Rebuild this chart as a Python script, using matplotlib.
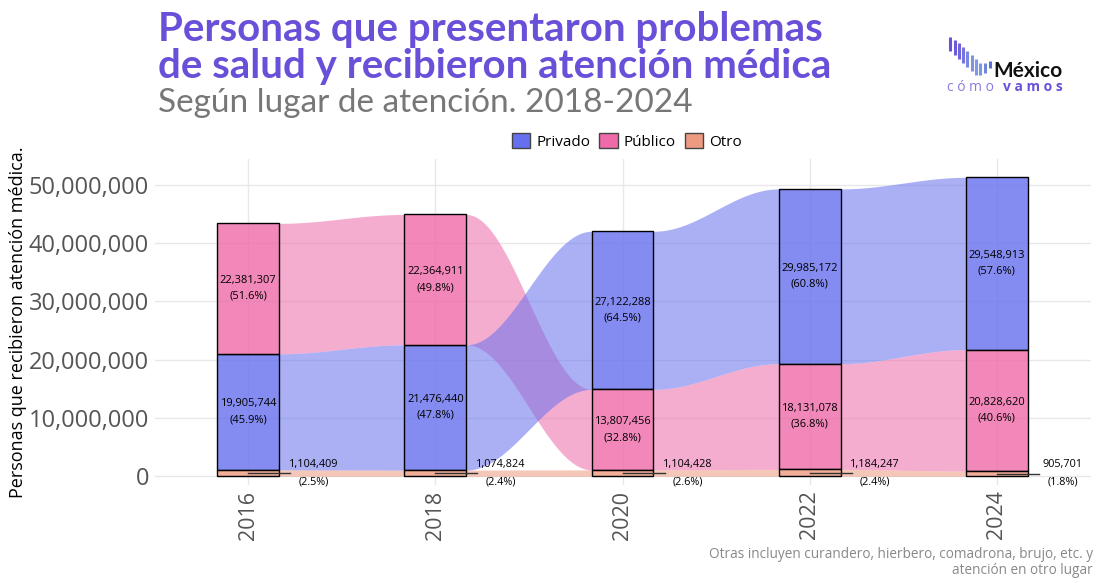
import numpy as np
import matplotlib
matplotlib.use("Agg")
import matplotlib.pyplot as plt
from matplotlib.patches import Patch

# Datos
years = [2016, 2018, 2020, 2022, 2024]
privado = [19905744, 21476440, 27122288, 29985172, 29548913]
publico = [22381307, 22364911, 13807456, 18131078, 20828620]
otro = [1104409, 1074824, 1104428, 1184247, 905701]
categorias = ["Privado", "Público", "Otro"]
colores = {"Privado": "#6670ee", "Público": "#ee6aa8", "Otro": "#ee9a80"}

plt.rcParams['font.family'] = ['Open Sans', 'DejaVu Sans']

series = {"Privado": privado, "Público": publico, "Otro": otro}
n = len(years)
totales = [privado[i] + publico[i] + otro[i] for i in range(n)]

# Apilar de menor a mayor en cada año
bottoms = {c: [0] * n for c in categorias}
tops = {c: [0] * n for c in categorias}
for i in range(n):
    orden = sorted(categorias, key=lambda c: series[c][i])
    acc = 0
    for c in orden:
        bottoms[c][i] = acc
        acc += series[c][i]
        tops[c][i] = acc

fig = plt.figure(figsize=(10.96, 5.83), dpi=100)
ax = fig.add_axes([0.141, 0.168, 0.854, 0.56])

w = 0.66
t = np.linspace(0, 1, 80)
s = (1 - np.cos(np.pi * t)) / 2

# Flujos entre barras
for i in range(n - 1):
    x0 = years[i] + w / 2
    x1 = years[i + 1] - w / 2
    xs = x0 + (x1 - x0) * t
    for c in ["Otro", "Público", "Privado"]:
        lo = bottoms[c][i] + (bottoms[c][i + 1] - bottoms[c][i]) * s
        hi = tops[c][i] + (tops[c][i + 1] - tops[c][i]) * s
        ax.fill_between(xs, lo, hi, color=colores[c], alpha=0.55, linewidth=0, zorder=1)

# Barras
for c in categorias:
    ax.bar(years, series[c], bottom=bottoms[c], width=w,
           color=matplotlib.colors.to_rgba(colores[c], 0.8),
           edgecolor="black", linewidth=1, zorder=2)

# Etiquetas
for i in range(n):
    for c in ["Privado", "Público"]:
        v = series[c][i]
        ax.text(years[i], bottoms[c][i] + v / 2,
                f"{v:,}\n({v / totales[i] * 100:.1f}%)",
                ha="center", va="center", fontsize=8, linespacing=1.6, zorder=3)
    v = otro[i]
    ym = bottoms["Otro"][i] + v / 2
    ax.plot([years[i], years[i] + 0.45], [ym, ym], color="#333333", lw=1, zorder=3)
    ax.text(years[i] + 0.7, ym, f"{v:,}\n({v / totales[i] * 100:.1f}%)",
            ha="center", va="center", fontsize=7.8, linespacing=1.8, zorder=3)

ax.set_xlim(2015, 2025)
ax.set_ylim(-1.5e6, 54.5e6)
ax.set_xticks(years)
ax.set_xticklabels([str(y) for y in years], rotation=90, fontsize=15.5, color="#555555")
ax.set_yticks(range(0, 50000001, 10000000))
ax.set_yticklabels([f"{v:,}" for v in range(0, 50000001, 10000000)], fontsize=17, color="#555555")
ax.tick_params(length=0, pad=4)
ax.grid(True, color="#e8e8e8", lw=1)
ax.set_axisbelow(True)
for sp in ax.spines.values():
    sp.set_visible(False)
ax.set_ylabel("Personas que recibieron atención médica.", fontsize=13, labelpad=1)

handles = [Patch(facecolor=colores[c], edgecolor="#444444", label=c) for c in categorias]
fig.legend(handles=handles, loc="center", bbox_to_anchor=(0.572, 0.758), ncol=3,
           frameon=False, fontsize=11, handlelength=1.2, handleheight=1.2,
           handletextpad=0.4, columnspacing=0.6)

# Títulos
fig.text(0.144, 0.918, "Personas que presentaron problemas\nde salud y recibieron atención médica",
         fontsize=29, fontweight="bold", color="#6a50d8", family="Lato",
         va="center", ha="left", linespacing=1.0)
fig.text(0.144, 0.823, "Según lugar de atención. 2018-2024", fontsize=24,
         color="#777777", family="Lato", va="center", ha="left")

fig.text(0.997, 0.008, "Otras incluyen curandero, hierbero, comadrona, brujo, etc. y\natención en otro lugar",
         fontsize=9.8, color="#888888", ha="right", va="bottom", linespacing=1.1)

# Logo (coordenadas en píxeles)
logo = fig.add_axes([945 / 1096, 1 - 95 / 583, 126 / 1096, 66 / 583])
logo.set_xlim(945, 1071)
logo.set_ylim(95, 29)
logo.axis("off")
logo_x = [950, 955, 959.3, 963.3, 967.3, 971.7, 975.7, 980, 985, 990]
logo_top = [36.7, 40, 42.7, 46.7, 50.7, 55, 59.3, 63.3, 63.3, 60.7]
logo_bot = [50.7, 55, 59.3, 63.3, 67.3, 70.7, 75, 75, 73.3, 68.3]
logo_col = ["#6a50d8", "#6d5ad9", "#7064dc", "#7575de", "#7a88e0", "#7c94e2",
            "#7e9ce4", "#7a98e2", "#6f86dc", "#5a6fd2"]
for k in range(len(logo_x)):
    logo.plot([logo_x[k], logo_x[k]], [logo_top[k], logo_bot[k]], color=logo_col[k],
              lw=2.2, solid_capstyle="butt")
logo.text(993, 77, "México", fontsize=15, fontweight="bold", color="#111111",
          family="Lato", va="baseline", ha="left")
logo.text(947, 87, "c ó m o", fontsize=10, color="#8a7ae0", va="center", ha="left")
logo.text(1003, 87, "v a m o s", fontsize=10, color="#6a50d8", fontweight="bold",
          va="center", ha="left")

fig.savefig("out.png", dpi=100)
